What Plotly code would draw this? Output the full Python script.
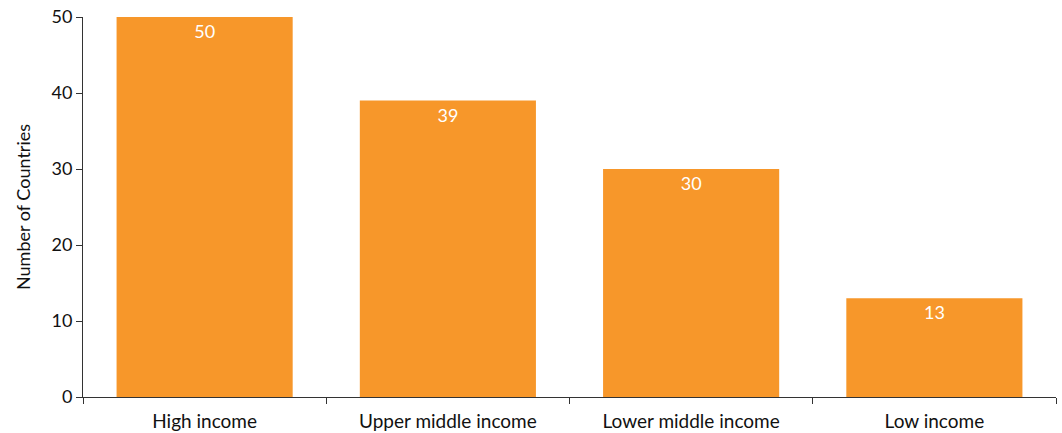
import plotly.graph_objects as go

categories = ["High income", "Upper middle income", "Lower middle income", "Low income"]
values = [50, 39, 30, 13]
y_ticks = [0, 10, 20, 30, 40, 50]

fig = go.Figure(go.Bar(
    x=categories, y=values,
    marker=dict(color="#F7972A", line=dict(width=0)),
    text=[str(v) for v in values],
    textposition="inside", insidetextanchor="end",
    textfont=dict(color="white", size=18, family="Lato, sans-serif"),
    cliponaxis=False,
))

fig.update_layout(
    width=1062, height=433,
    margin=dict(l=83, r=6, t=17, b=36, pad=0, autoexpand=False),
    paper_bgcolor="white", plot_bgcolor="white",
    bargap=0.276,
    font=dict(family="Lato, sans-serif", size=18, color="#111"),
    showlegend=False,
)
fig.update_xaxes(
    showline=True, linecolor="#333", linewidth=1,
    ticks="outside", tickson="boundaries", ticklen=6, tickcolor="#333",
    showgrid=False, tickfont=dict(size=19), automargin=False,
    ticklabelstandoff=7,
)
fig.update_yaxes(
    range=[0, 50], tickvals=y_ticks,
    showline=True, linecolor="#333", linewidth=1,
    ticks="outside", ticklen=6, tickcolor="#333",
    showgrid=False, zeroline=False, automargin=False,
    title=dict(text="Number of Countries", font=dict(size=18), standoff=16),
    tickfont=dict(size=18), ticklabeloverflow="allow",
)

fig.write_html(
    "out.html",
    config={"displayModeBar": False},
    post_script="document.body.style.margin='0px';document.body.style.overflow='hidden';",
)
